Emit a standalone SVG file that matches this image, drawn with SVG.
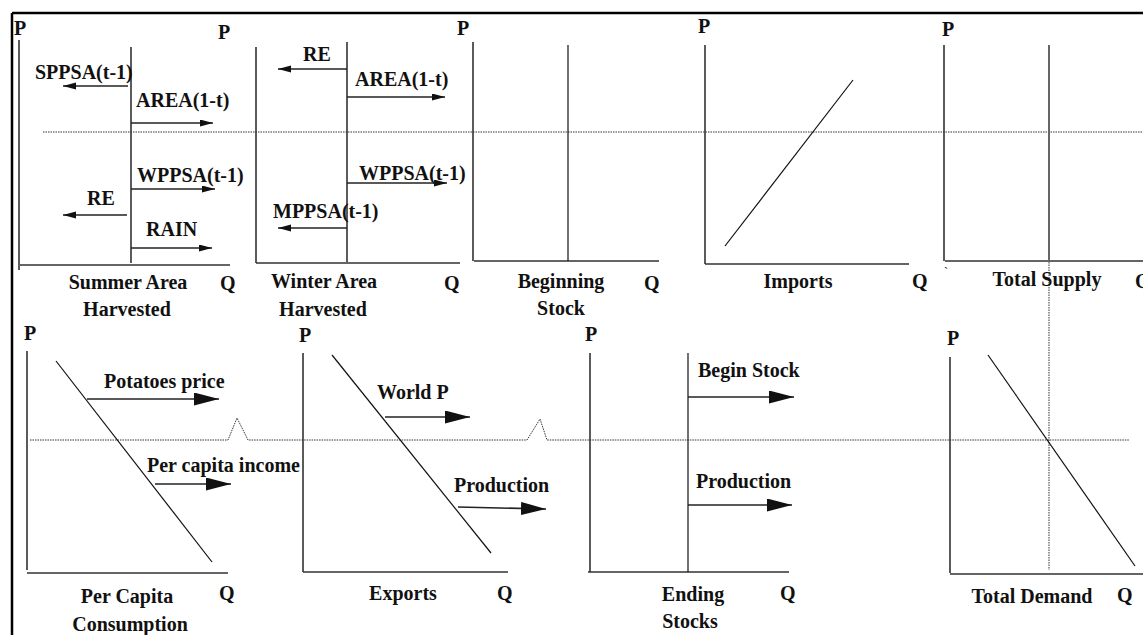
<svg xmlns="http://www.w3.org/2000/svg" width="1143" height="635" viewBox="0 0 1143 635">
<style>
text{font-family:"Liberation Serif","Times New Roman",serif;font-weight:bold;font-size:20px;fill:#111}
.t{text-anchor:middle}
.ax{stroke:#333;stroke-width:1.6;fill:none}
.ln{stroke:#111;stroke-width:1.2;fill:none}
.dot{stroke:#333;stroke-width:1;stroke-dasharray:1.5 1;fill:none}
.sa{stroke:#222;stroke-width:1.4;fill:none;marker-end:url(#sm)}
.la{stroke:#222;stroke-width:1.6;fill:none;marker-end:url(#lg)}
</style>
<defs>
<marker id="sm" markerUnits="userSpaceOnUse" markerWidth="14" markerHeight="8" refX="13" refY="3.5" orient="auto"><path d="M0,0 L13,3.5 L0,7 z" fill="#111"/></marker>
<marker id="lg" markerUnits="userSpaceOnUse" markerWidth="26" markerHeight="14" refX="25" refY="6.5" orient="auto"><path d="M0,0 L25,6.5 L0,13 z" fill="#111"/></marker>
</defs>
<rect width="1143" height="635" fill="#fff"/>
<path d="M12,13 H1143 M12,13 V635" stroke="#000" stroke-width="2.5" fill="none"/>

<g id="guides">
<path class="dot" d="M43,132 H1143"/>
<path class="dot" d="M30,440 H228 L237,418 L248,440 H527 L540,419 L547,440 H1129"/>
<path class="dot" d="M1049,262 V570"/>
</g>

<g id="summer-area">
<path class="ax" d="M19,40 V270 M20,265 H230"/>
<path class="ax" d="M131,47 V263"/>
<text x="14" y="35">P</text>
<text x="220" y="290">Q</text>
<text x="35" y="79">SPPSA(t-1)</text>
<text x="136" y="107">AREA(1-t)</text>
<text x="137" y="182">WPPSA(t-1)</text>
<text x="87" y="205">RE</text>
<text x="146" y="236">RAIN</text>
<text class="t" x="128" y="289">Summer Area</text>
<text class="t" x="127" y="316">Harvested</text>
</g>

<g id="winter-area">
<path class="ax" d="M256,47 V263 M256,263 H460"/>
<path class="ax" d="M347,42 V262"/>
<text x="218" y="39">P</text>
<text x="444" y="290">Q</text>
<text x="303" y="61">RE</text>
<text x="355" y="86">AREA(1-t)</text>
<text x="359" y="180">WPPSA(t-1)</text>
<text x="273" y="218">MPPSA(t-1)</text>
<text class="t" x="324" y="288">Winter Area</text>
<text class="t" x="323" y="316">Harvested</text>
</g>

<g id="beginning-stock">
<path class="ax" d="M473,42 V261 M474,261 H659"/>
<path class="ln" d="M568,45 V261"/>
<text x="457" y="35">P</text>
<text x="644" y="290">Q</text>
<text class="t" x="561" y="288">Beginning</text>
<text class="t" x="561" y="315">Stock</text>
</g>

<g id="imports">
<path class="ax" d="M705,45 V264 M705,264 H909"/>
<path class="ln" d="M725,246 L853,80"/>
<text x="698" y="33">P</text>
<text x="912" y="288">Q</text>
<text class="t" x="798" y="288">Imports</text>
</g>

<g id="total-supply">
<path class="ax" d="M944,45 V261 M945,261 H1143"/>
<path d="M1049,45 V261" stroke="#666" stroke-width="2" fill="none"/>
<text x="942" y="36">P</text>
<text x="1135" y="288">Q</text>
<text x="944" y="276" style="font-size:12px;font-weight:normal">`</text>
<text class="t" x="1047" y="286">Total Supply</text>
</g>

<g id="per-capita-consumption">
<path class="ax" d="M27,351 V570 M27,573 H228"/>
<path class="ln" d="M56,361 L212,562"/>
<text x="24" y="340">P</text>
<text x="219" y="600">Q</text>
<text x="104" y="388">Potatoes price</text>
<text x="147" y="472">Per capita income</text>
<text class="t" x="127" y="603">Per Capita</text>
<text class="t" x="130" y="631">Consumption</text>
</g>

<g id="exports">
<path class="ax" d="M303,353 V572 M303,572 H508"/>
<path class="ln" d="M332,355 L491,553"/>
<text x="299" y="342">P</text>
<text x="497" y="600">Q</text>
<text x="377" y="399">World P</text>
<text x="454" y="492">Production</text>
<text class="t" x="403" y="600">Exports</text>
</g>

<g id="ending-stocks">
<path class="ax" d="M590,353 V572 M588,572 H789"/>
<path class="ln" d="M688,353 V572"/>
<text x="585" y="341">P</text>
<text x="780" y="600">Q</text>
<text x="698" y="377">Begin Stock</text>
<text x="696" y="488">Production</text>
<text class="t" x="693" y="601">Ending</text>
<text class="t" x="690" y="628">Stocks</text>
</g>

<g id="total-demand">
<path class="ax" d="M950,357 V573 M950,574 H1143"/>
<path class="ln" d="M988,355 L1135,566"/>
<text x="947" y="345">P</text>
<text x="1117" y="602">Q</text>
<text class="t" x="1032" y="603">Total Demand</text>
</g>

<g id="connectors">
<path class="sa" d="M128,86 H63"/>
<path class="sa" d="M131,123 H213"/>
<path class="sa" d="M131,189 H215"/>
<path class="sa" d="M127,215 H63"/>
<path class="sa" d="M131,248 H212"/>
<path class="sa" d="M347,69 H278"/>
<path class="sa" d="M347,97 H445"/>
<path class="sa" d="M347,183 H447"/>
<path class="sa" d="M347,228 H278"/>
<path class="la" d="M87,399 H219"/>
<path class="la" d="M155,484 H231"/>
<path class="la" d="M385,417 H470"/>
<path class="la" d="M458,507 L546,509"/>
<path class="la" d="M688,397 H794"/>
<path class="la" d="M688,505 H792"/>
</g>
</svg>
